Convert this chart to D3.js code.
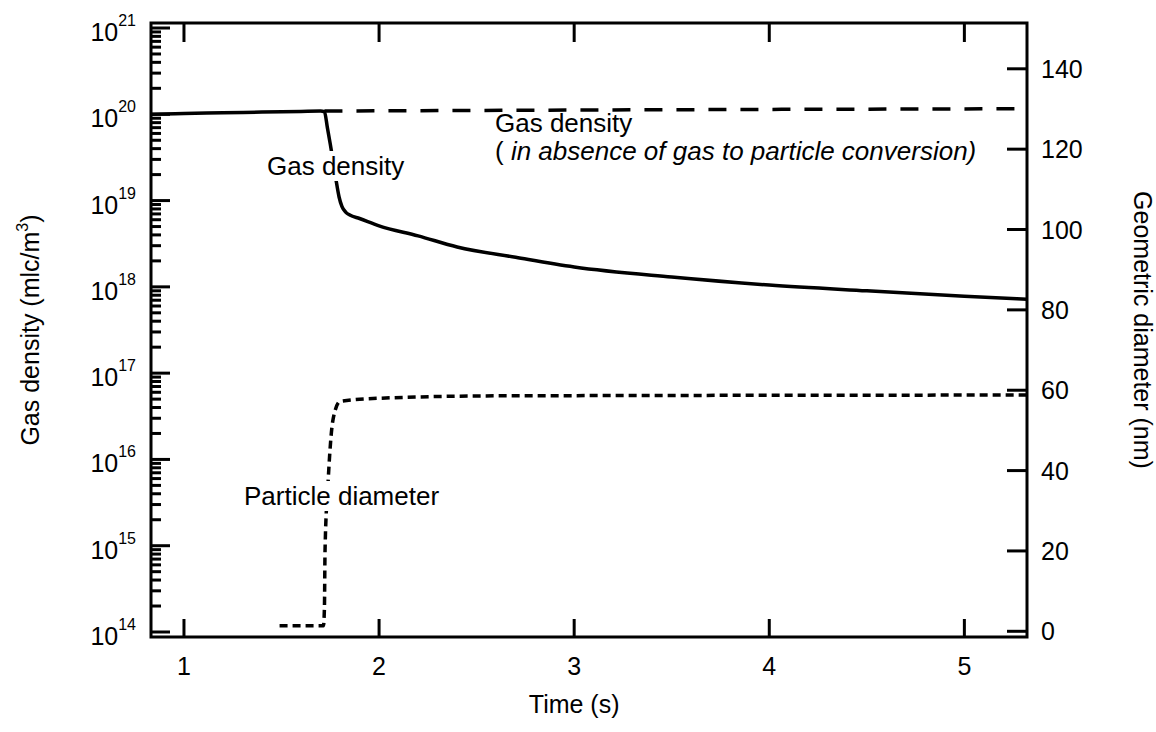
<!DOCTYPE html>
<html>
<head>
<meta charset="utf-8">
<script src="https://cdn.jsdelivr.net/npm/d3@7"></script>
<style>
  body { margin: 0; background: #fff; }
  svg text { font-family: "Liberation Sans", Arial, sans-serif; fill: #000; }
</style>
</head>
<body>
<svg id="chart" width="1156" height="732"></svg>
<script>
// gas density with particle formation (solid)
const gasTime = [0.831, 1.0, 1.2, 1.4, 1.6, 1.70, 1.72, 1.735, 1.75, 1.765, 1.78, 1.795, 1.81, 1.83, 1.85, 1.9, 2.0, 2.2, 2.4, 2.7, 3.0, 3.5, 4.0, 4.5, 5.0, 5.321];
const gasDensity = [1.0e20, 1.02e20, 1.04e20, 1.06e20, 1.08e20, 1.09e20, 1.07e20, 7e19, 4.5e19, 2.8e19, 1.7e19, 1.1e19, 8.5e18, 7.3e18, 6.8e18, 6.2e18, 5.1e18, 3.9e18, 2.9e18, 2.2e18, 1.7e18, 1.3e18, 1.05e18, 9e17, 7.8e17, 7.2e17];

// gas density without gas-to-particle conversion (dashed)
const refTime = [1.72, 3.0, 5.321];
const refDensity = [1.09e20, 1.12e20, 1.16e20];

// particle geometric diameter, nm (dotted, right axis)
const partTime = [1.49, 1.715, 1.72, 1.723, 1.738, 1.764, 1.80, 2.0, 2.6, 5.321];
const partDiameter = [1.4, 1.4, 6, 20, 36.5, 52.7, 57.2, 58, 58.6, 58.8];

const xTicks = [1, 2, 3, 4, 5];
const leftExps = [14, 15, 16, 17, 18, 19, 20, 21];
const rightTicks = [0, 20, 40, 60, 80, 100, 120, 140];

const svg = d3.select("#chart");
const plotL = 151, plotR = 1027, plotT = 23, plotB = 637;
const FS = 25;

const x = d3.scaleLinear().domain([0.831, 5.321]).range([plotL, plotR]);
const yL = d3.scaleLog().domain([Math.pow(10, 13.942), Math.pow(10, 21.058)]).range([plotB, plotT]);
const yR = d3.scaleLinear().domain([-1.42, 151.4]).range([plotB, plotT]);

const axisG = svg.append("g").attr("stroke", "#000").attr("stroke-width", 3);

// frame: left, bottom, right, top
axisG.append("path")
  .attr("fill", "none")
  .attr("stroke-linecap", "square")
  .attr("d", `M${plotL},${plotT} V${plotB} H${plotR} V${plotT} H${plotL}`);

// x ticks bottom and top (inward)
xTicks.forEach(t => {
  axisG.append("line").attr("x1", x(t)).attr("x2", x(t)).attr("y1", plotB).attr("y2", plotB - 18);
  axisG.append("line").attr("x1", x(t)).attr("x2", x(t)).attr("y1", plotT).attr("y2", plotT + 19);
  svg.append("text").attr("x", x(t)).attr("y", 675).attr("text-anchor", "middle")
    .attr("font-size", FS).text(t);
});

// left log ticks
leftExps.forEach(e => {
  const v = Math.pow(10, e);
  axisG.append("line").attr("x1", plotL).attr("x2", plotL + 19).attr("y1", yL(v)).attr("y2", yL(v));
  if (e < 21) {
    for (let m = 2; m <= 9; m++) {
      const yy = yL(m * v);
      axisG.append("line").attr("x1", plotL).attr("x2", plotL + 10).attr("y1", yy).attr("y2", yy);
    }
  }
  const lab = svg.append("text").attr("x", 136).attr("y", yL(v) + 13)
    .attr("text-anchor", "end").attr("font-size", FS);
  lab.append("tspan").text("10");
  lab.append("tspan").attr("font-size", 16).attr("dy", -15).text(e);
});

// right ticks
rightTicks.forEach(t => {
  axisG.append("line").attr("x1", plotR).attr("x2", plotR - 20).attr("y1", yR(t)).attr("y2", yR(t));
  svg.append("text").attr("x", 1041).attr("y", yR(t) + 9).attr("font-size", FS).text(t);
});

// axis titles
svg.append("text").attr("x", x(3)).attr("y", 713).attr("text-anchor", "middle")
  .attr("font-size", FS).text("Time (s)");

const lt = svg.append("text")
  .attr("transform", `translate(39,${(plotT + plotB) / 2}) rotate(-90)`)
  .attr("text-anchor", "middle").attr("font-size", FS);
lt.append("tspan").text("Gas density (mlc/m");
lt.append("tspan").attr("font-size", 16).attr("dy", -11).text("3");
lt.append("tspan").attr("dy", 11).text(")");

svg.append("text")
  .attr("transform", `translate(1134,${(plotT + plotB) / 2}) rotate(90)`)
  .attr("text-anchor", "middle").attr("font-size", FS)
  .text("Geometric diameter (nm)");

// series
const gasLine = d3.line().x((d, i) => x(gasTime[i])).y(d => yL(d)).curve(d3.curveMonotoneX);
const refLine = d3.line().x((d, i) => x(refTime[i])).y(d => yL(d)).curve(d3.curveMonotoneX);
const partLine = d3.line().x((d, i) => x(partTime[i])).y(d => yR(d)).curve(d3.curveMonotoneX);

svg.append("path").attr("d", refLine(refDensity))
  .attr("fill", "none").attr("stroke", "#000").attr("stroke-width", 3.5)
  .attr("stroke-dasharray", "18,14");

svg.append("path").attr("d", gasLine(gasDensity))
  .attr("fill", "none").attr("stroke", "#000").attr("stroke-width", 3.5);

svg.append("path").attr("d", partLine(partDiameter))
  .attr("fill", "none").attr("stroke", "#000").attr("stroke-width", 3.5)
  .attr("stroke-dasharray", "8,5");

// annotations with white backing
const AFS = 26;
function label(xp, yp, str) {
  const g = svg.append("g");
  const t = g.append("text").attr("x", xp).attr("y", yp).attr("font-size", AFS).text(str);
  const b = t.node().getBBox();
  g.insert("rect", "text").attr("x", b.x - 2).attr("y", b.y).attr("width", b.width + 4)
    .attr("height", b.height).attr("fill", "#fff");
  return g;
}
label(267, 175, "Gas density");
label(244, 505, "Particle diameter");

svg.append("text").attr("x", 495).attr("y", 132).attr("font-size", AFS).text("Gas density");
const sub = svg.append("text").attr("x", 495).attr("y", 160).attr("font-size", AFS);
sub.append("tspan").text("( ");
sub.append("tspan").attr("font-style", "italic").text("in absence of gas to particle conversion)");
</script>
</body>
</html>
